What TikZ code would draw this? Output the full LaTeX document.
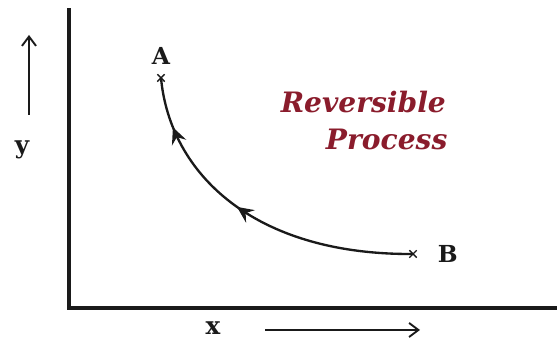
\documentclass[tikz,border=0pt]{standalone}
\usepackage{fontspec}
\setmainfont{DejaVu Serif}
\usetikzlibrary{arrows.meta,positioning,shapes.misc,decorations.markings}
\definecolor{rpInk}{HTML}{1A1A1A}
\definecolor{rpRed}{HTML}{8A1C2C}
\tikzset{
  axisLine/.style={line width=3pt, color=rpInk, line cap=rect},
  dirArrow/.style={-{Straight Barb[length=8pt, width=12pt, line width=1.6pt]},
    line width=1.8pt, color=rpInk},
  axisLabel/.style={font=\fontsize{21}{22}\selectfont\bfseries, text=rpInk, inner sep=1pt},
  ptMark/.style={cross out, draw=rpInk, line width=1.2pt, minimum size=5pt, inner sep=0pt},
  ptLabel/.style={font=\fontsize{20}{21}\selectfont\bfseries, text=rpInk, inner sep=1pt},
  titleText/.style={font=\fontsize{24}{32}\selectfont\bfseries\itshape, text=rpRed,
    align=center, inner sep=0pt},
  processPath/.style={line width=2pt, color=rpInk,
    decoration={markings,
      mark=at position 0.545 with {\arrow{Stealth[length=14pt, width=13pt, inset=5pt]}},
      mark=at position 0.85 with {\arrow{Stealth[length=14pt, width=13pt, inset=5pt]}}},
    postaction={decorate}},
}

\begin{document}
\begin{tikzpicture}[x=1cm,y=1cm]
  \useasboundingbox (0,0) rectangle (16.71,10.2);

  % axes
  \coordinate (origin) at (2.07,0.96);
  \coordinate (yTop) at (2.07,9.90);
  \coordinate (xEnd) at (16.71,0.96);
  \draw[axisLine] (yTop) -- (origin) -- (xEnd);

  \coordinate (yArrowFoot) at (0.87,6.75);
  \coordinate (yArrowHead) at (0.87,9.15);
  \draw[dirArrow] (yArrowFoot) -- (yArrowHead);
  \node[axisLabel] (yLabel) at (0.66,5.70) {y};

  \node[axisLabel] (xLabel) at (6.39,0.36) {x};
  \coordinate (xArrowFoot) at (7.95,0.30);
  \coordinate (xArrowHead) at (12.60,0.30);
  \draw[dirArrow] (xArrowFoot) -- (xArrowHead);

  % states
  \node[ptMark] (ptA) at (4.83,7.86) {};
  \node[ptLabel, above=7pt of ptA] (labA) {A};
  \node[ptMark] (ptB) at (12.39,2.58) {};
  \node[ptLabel, right=17pt of ptB] (labB) {B};

  \draw[processPath] (ptB.center) .. controls (7.6,2.55) and (5.1,5.0) .. (ptA.center);

  \node[titleText] (title) at (10.90,6.58) {Reversible\\\hspace*{1.4cm}Process};
\end{tikzpicture}
\end{document}
